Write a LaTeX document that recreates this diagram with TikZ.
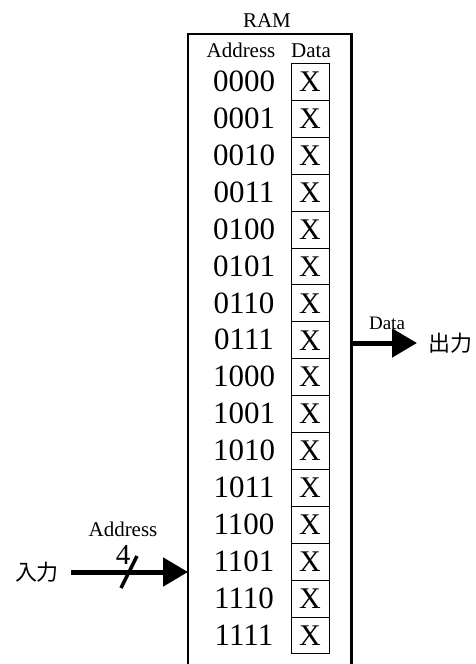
\documentclass[tikz,border=0pt]{standalone}
\usepackage{fontspec}
\setmainfont{Liberation Serif}
\newfontfamily\cjk{Noto Sans CJK JP}
\usetikzlibrary{arrows.meta}
\begin{document}
\begin{tikzpicture}[x=1pt,y=-1pt,
  ramside/.style={line width=2.6pt},
  cell/.style={draw, line width=0.9pt, minimum width=38pt, minimum height=36.9pt, inner sep=0pt, font=\fontsize{30}{30}\selectfont},
  addr/.style={font=\fontsize{31}{31}\selectfont, inner sep=0pt},
  hdr/.style={font=\fontsize{21}{21}\selectfont, inner sep=0pt},
  cjklbl/.style={font=\cjk\fontsize{22}{22}\selectfont, inner sep=0pt},
  bus/.style={line width=5pt, -{Triangle[length=25pt,width=28pt]}},
]
\useasboundingbox (0,0) rectangle (476,664);
% RAM block (open at the bottom)
\node[minimum width=163pt, minimum height=630pt, anchor=north west, inner sep=0pt] (ram) at (188,34) {};
\draw[ramside] (ram.south west) -- (ram.north west) -- (ram.north east) -- (ram.south east);
\node[hdr, anchor=base] (title) at (267,27) {RAM};
\node[hdr, anchor=base] (hA) at (241,57) {Address};
\node[hdr, anchor=base] (hD) at (311,57) {Data};
% rows
\foreach \b [count=\i from 0] in {0000,0001,0010,0011,0100,0101,0110,0111,1000,1001,1010,1011,1100,1101,1110,1111}{
  \node[cell, anchor=north] (d\i) at (310,63+36.9*\i) {X};
  \node[addr] (a\i) at (244,81.45+36.9*\i) {\b};
}
% input bus
\node[cjklbl] (inL) at (37,572) {入力};
\coordinate (inS) at (71,572);
\draw[bus] (inS) -- (ram.west |- inS);
\coordinate (s1) at (121,588);
\coordinate (s2) at (137,556);
\draw[line width=3.5pt] (s1) -- (s2);
\node[font=\fontsize{29}{29}\selectfont, inner sep=0pt] (four) at (123,555) {4};
\node[hdr, anchor=base] (busA) at (123,536) {Address};
% output bus
\coordinate (outE) at (417,343);
\draw[bus] (ram.east |- outE) -- (outE);
\node[font=\fontsize{19}{19}\selectfont, inner sep=0pt, anchor=base] (outD) at (387,329) {Data};
\node[cjklbl] (outL) at (450,343) {出力};
\end{tikzpicture}
\end{document}
